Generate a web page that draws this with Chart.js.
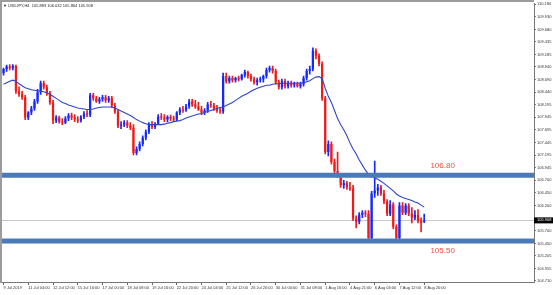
<!DOCTYPE html>
<html>
<head>
<meta charset="utf-8">
<script src="https://cdn.jsdelivr.net/npm/chart.js@4"></script>
<style>
  html, body { margin: 0; padding: 0; background: #fff; }
  #wrap { width: 553px; height: 295px; }
</style>
</head>
<body>
<div id="wrap"><canvas id="chart" width="553" height="295"></canvas></div>
<script>
// USDJPY H4, 9 Jul - 8 Aug 2019
const opens = [
  108.82,108.90,108.95,108.92,108.96,108.46,108.40,108.34,107.94,108.04,
  108.12,108.26,108.44,108.62,108.54,108.42,108.24,107.88,107.94,107.86,
  107.84,107.92,107.98,107.94,107.90,107.88,107.95,108.02,108.00,108.38,
  108.32,108.26,108.30,108.34,108.28,108.32,108.18,108.06,107.78,107.80,
  107.84,107.78,107.74,107.24,107.32,107.42,107.54,107.66,107.80,107.76,
  107.82,107.96,107.94,107.90,107.95,107.92,107.90,108.04,108.10,108.08,
  108.16,108.26,108.20,108.16,108.10,108.04,108.08,108.20,108.18,108.12,
  108.08,108.06,108.76,108.66,108.72,108.68,108.72,108.70,108.78,108.84,
  108.76,108.70,108.64,108.68,108.70,108.76,108.88,108.92,108.86,108.64,
  108.54,108.66,108.56,108.62,108.58,108.60,108.56,108.60,108.72,108.86,
  108.90,109.26,109.16,109.00,108.32,107.26,107.42,107.06,106.88,106.80,
  106.60,106.64,106.56,106.54,105.94,105.88,106.02,106.06,106.04,105.56,
  106.44,106.50,106.56,106.44,106.28,106.04,106.22,105.78,105.56,106.20,
  106.06,106.20,106.04,105.96,106.02,105.90,105.883
];
const highs = [
  108.92,108.98,108.99,108.99,108.98,108.55,108.46,108.38,108.06,108.16,
  108.30,108.50,108.66,108.66,108.58,108.46,108.28,107.98,107.97,107.92,
  107.96,108.02,108.03,108.00,107.96,107.98,108.06,108.08,108.42,108.42,
  108.36,108.34,108.38,108.38,108.36,108.36,108.22,108.10,107.86,107.88,
  107.88,107.84,107.80,107.36,107.46,107.58,107.70,107.84,107.86,107.84,
  108.00,108.02,108.00,107.98,107.99,107.97,108.06,108.14,108.16,108.20,
  108.30,108.30,108.28,108.24,108.16,108.12,108.24,108.26,108.22,108.18,
  108.14,108.82,108.82,108.76,108.76,108.74,108.76,108.80,108.88,108.86,
  108.80,108.74,108.72,108.74,108.78,108.92,108.96,108.96,108.90,108.68,
  108.70,108.70,108.66,108.66,108.64,108.64,108.64,108.76,108.90,108.96,
  109.32,109.30,109.20,109.04,108.36,107.48,107.46,107.12,107.26,106.84,
  106.70,106.68,106.66,106.60,106.00,106.06,106.10,106.10,106.10,106.48,
  107.08,106.62,106.60,106.50,106.32,106.30,106.26,105.82,106.26,106.26,
  106.24,106.24,106.16,106.10,106.12,105.96,106.032
];
const lows = [
  108.78,108.85,108.88,108.88,108.42,108.36,108.30,107.90,107.90,108.00,
  108.08,108.22,108.40,108.50,108.38,108.20,107.82,107.84,107.83,107.80,
  107.82,107.88,107.90,107.86,107.84,107.85,107.92,107.96,107.96,108.28,
  108.24,108.22,108.26,108.24,108.24,108.14,108.02,107.74,107.72,107.76,
  107.74,107.70,107.20,107.20,107.28,107.38,107.50,107.62,107.72,107.72,
  107.80,107.90,107.86,107.86,107.88,107.86,107.88,108.00,108.04,108.06,
  108.12,108.16,108.12,108.08,108.00,108.00,108.04,108.14,108.08,108.04,
  108.02,108.02,108.62,108.62,108.64,108.64,108.66,108.68,108.74,108.72,
  108.66,108.60,108.58,108.64,108.64,108.72,108.84,108.82,108.60,108.50,
  108.50,108.52,108.52,108.54,108.54,108.54,108.52,108.56,108.68,108.80,
  108.86,109.10,108.96,108.28,107.22,107.18,107.02,106.84,106.76,106.56,
  106.54,106.52,106.50,105.90,105.76,105.84,105.96,105.98,105.52,105.52,
  106.36,106.40,106.40,106.24,106.00,106.00,105.74,105.50,105.50,106.02,
  106.02,106.00,105.86,105.92,105.86,105.68,105.864
];
const closes = [
  108.90,108.95,108.92,108.96,108.46,108.40,108.34,107.94,108.04,108.12,
  108.26,108.44,108.62,108.54,108.42,108.24,107.88,107.94,107.86,107.84,
  107.92,107.98,107.94,107.90,107.88,107.95,108.02,108.00,108.38,108.32,
  108.26,108.30,108.34,108.28,108.32,108.18,108.06,107.78,107.80,107.84,
  107.78,107.74,107.24,107.32,107.42,107.54,107.66,107.80,107.76,107.82,
  107.96,107.94,107.90,107.95,107.92,107.90,108.04,108.10,108.08,108.16,
  108.26,108.20,108.16,108.10,108.04,108.08,108.20,108.18,108.12,108.08,
  108.06,108.76,108.66,108.72,108.68,108.72,108.70,108.78,108.84,108.76,
  108.70,108.64,108.68,108.70,108.76,108.88,108.92,108.86,108.64,108.54,
  108.66,108.56,108.62,108.58,108.60,108.56,108.60,108.72,108.86,108.90,
  109.26,109.16,109.00,108.32,107.26,107.42,107.06,106.88,106.80,106.60,
  106.64,106.56,106.54,105.94,105.88,106.02,106.06,106.04,105.56,106.44,
  106.50,106.56,106.44,106.28,106.04,106.22,105.78,105.56,106.20,106.06,
  106.20,106.04,105.96,106.02,105.90,105.86,105.908
];
// moving average line as drawn on the chart
const maValues = [
  108.60,108.63,108.66,108.68,108.66,108.61,108.57,108.53,108.51,108.49,
  108.48,108.47,108.46,108.45,108.43,108.40,108.36,108.32,108.28,108.24,
  108.22,108.19,108.17,108.15,108.13,108.12,108.11,108.10,108.10,108.11,
  108.13,108.14,108.15,108.15,108.15,108.15,108.13,108.10,108.07,108.04,
  108.01,107.98,107.94,107.90,107.87,107.84,107.82,107.80,107.80,107.80,
  107.80,107.80,107.81,107.83,107.84,107.86,107.87,107.88,107.90,107.93,
  107.95,107.97,107.99,108.01,108.02,108.04,108.06,108.08,108.10,108.12,
  108.14,108.15,108.18,108.21,108.24,108.28,108.32,108.36,108.39,108.42,
  108.46,108.49,108.52,108.54,108.56,108.58,108.58,108.60,108.61,108.61,
  108.62,108.62,108.62,108.62,108.62,108.62,108.62,108.63,108.65,108.67,
  108.71,108.74,108.75,108.71,108.52,108.36,108.24,108.08,107.92,107.80,
  107.70,107.58,107.44,107.32,107.22,107.10,107.00,106.90,106.82,106.78,
  106.75,106.72,106.68,106.64,106.59,106.54,106.49,106.43,106.39,106.36,
  106.34,106.32,106.30,106.27,106.25,106.21,106.17
];

const xTickLabels = [
  '9 Jul 2019','11 Jul 04:00','12 Jul 12:00','15 Jul 16:00','17 Jul 00:00','18 Jul 08:00',
  '19 Jul 16:00','22 Jul 20:00','24 Jul 04:00','25 Jul 12:00','26 Jul 20:00','30 Jul 00:00',
  '31 Jul 08:00','1 Aug 16:00','4 Aug 21:00','6 Aug 04:00','7 Aug 12:00','8 Aug 20:00'
];
const yTickValues = [
  104.710,104.955,105.205,105.450,105.700,106.200,106.450,106.700,106.945,107.195,107.445,
  107.695,107.945,108.195,108.440,108.690,108.940,109.185,109.435,109.680,109.930,110.180
];
const levels = [106.80, 105.50];
const levelLabels = ['106.80', '105.50'];
const headerText = 'USDJPY,H4  105.883 106.032 105.864 105.908';
const lastPrice = 105.908;

const slotCount = 172;      // bar slots on screen incl. empty shift area
const labelEvery = 8;

const slots = Array.from({ length: slotCount }, (_, i) => i);
const bodies = opens.map((o, i) => [o, closes[i]]);
const wicks = lows.map((l, i) => [l, highs[i]]);
const candleColor = opens.map((o, i) => closes[i] >= o ? '#1428ff' : '#f01a1a');

const overlay = {
  id: 'overlay',
  beforeDatasetsDraw(chart) {
    const { ctx, chartArea: a, scales: { y } } = chart;
    const py = Math.round(y.getPixelForValue(lastPrice)) + 0.5;
    ctx.save();
    ctx.strokeStyle = '#c8c8c8';
    ctx.lineWidth = 1;
    ctx.beginPath();
    ctx.moveTo(0, py);
    ctx.lineTo(a.right, py);
    ctx.stroke();
    ctx.restore();
  },
  afterDatasetsDraw(chart) {
    const { ctx, chartArea: a, scales: { x, y } } = chart;
    ctx.save();
    // support / resistance bands
    ctx.fillStyle = '#4a7bb7';
    levels.forEach(v => {
      const py = y.getPixelForValue(v);
      ctx.fillRect(0, py - 2.5, a.right, 5);
    });
    ctx.fillStyle = '#e8503f';
    ctx.font = '8px "Liberation Sans", Arial, sans-serif';
    ctx.textAlign = 'left';
    ctx.textBaseline = 'middle';
    const lx = x.getPixelForValue(138);
    ctx.fillText(levelLabels[0], lx, y.getPixelForValue(levels[0]) - 9);
    ctx.fillText(levelLabels[1], lx, y.getPixelForValue(levels[1]) + 10);

    // frame
    ctx.fillStyle = '#9c9c9c';
    ctx.fillRect(0, 0, a.right, 2);
    ctx.fillRect(0, 0, 2, a.bottom + 1);

    // header
    ctx.fillStyle = '#222';
    ctx.font = '4px "Liberation Sans", Arial, sans-serif';
    ctx.textBaseline = 'middle';
    ctx.fillText('\u25BC', 3, 5.5);
    ctx.fillText(headerText, 8, 5.5);

    // current price box
    const py = y.getPixelForValue(lastPrice);
    ctx.fillStyle = '#000';
    ctx.fillRect(a.right, py - 3, 553 - a.right, 6);
    ctx.fillStyle = '#fff';
    ctx.fillText(lastPrice.toFixed(3), a.right + 3, py);
    ctx.restore();
  }
};

new Chart(document.getElementById('chart'), {
  data: {
    labels: slots,
    datasets: [
      {
        type: 'bar',
        data: wicks,
        backgroundColor: candleColor,
        barThickness: 1,
        grouped: false,
        order: 3
      },
      {
        type: 'bar',
        data: bodies,
        backgroundColor: candleColor,
        barPercentage: 0.72,
        categoryPercentage: 1,
        grouped: false,
        order: 2
      },
      {
        type: 'line',
        data: maValues,
        borderColor: '#2f43c8',
        borderWidth: 1.1,
        pointRadius: 0,
        tension: 0,
        order: 1
      }
    ]
  },
  options: {
    responsive: false,
    animation: false,
    devicePixelRatio: 1,
    layout: { padding: { left: 2, top: 3, right: 0, bottom: 0 } },
    plugins: { legend: { display: false }, tooltip: { enabled: false } },
    scales: {
      x: {
        type: 'category',
        offset: true,
        grid: {
          offset: false,
          drawOnChartArea: false,
          tickLength: 3,
          color: c => (c.index % labelEvery === 0 && c.index / labelEvery < xTickLabels.length) ? '#666' : 'rgba(0,0,0,0)'
        },
        border: { display: true, color: '#777', width: 1 },
        ticks: {
          autoSkip: false,
          maxRotation: 0,
          minRotation: 0,
          align: 'start',
          padding: 0,
          color: '#333',
          font: { size: 4, family: '"Liberation Sans", Arial, sans-serif' },
          callback: (v, i) => (i % labelEvery === 0 && i / labelEvery < xTickLabels.length) ? xTickLabels[i / labelEvery] : ''
        },
        afterFit: s => { s.height = 13; }
      },
      y: {
        type: 'linear',
        position: 'right',
        min: 104.69,
        max: 110.197,
        grid: { drawOnChartArea: false, tickLength: 2, color: '#777' },
        border: { display: true, color: '#777', width: 1 },
        afterBuildTicks: s => { s.ticks = yTickValues.map(v => ({ value: v })); },
        ticks: {
          padding: 1,
          color: '#333',
          font: { size: 4, family: '"Liberation Sans", Arial, sans-serif' },
          callback: v => v.toFixed(3)
        },
        afterFit: s => { s.width = 19; }
      }
    }
  },
  plugins: [overlay]
});
</script>
</body>
</html>
